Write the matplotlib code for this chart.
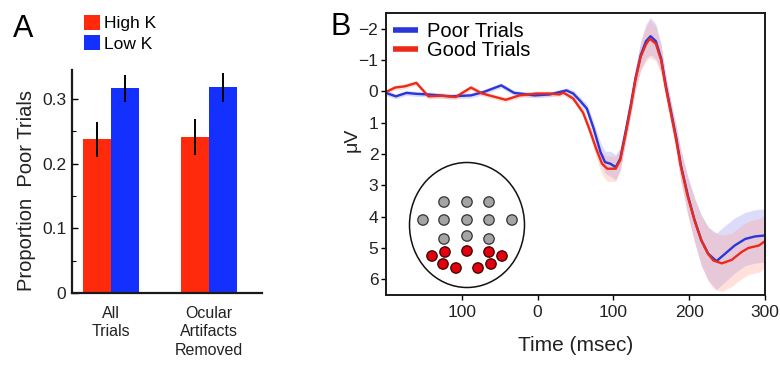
import matplotlib
matplotlib.use("Agg")
import matplotlib.pyplot as plt
from matplotlib.patches import Ellipse, Circle
from matplotlib.lines import Line2D
from matplotlib.ticker import MultipleLocator
import numpy as np

plt.rcParams['font.family'] = ['Liberation Sans', 'DejaVu Sans']

# ---------------- Panel A: proportion of poor trials ----------------
conditions = ["All\nTrials", "Ocular\nArtifacts\nRemoved"]
load_groups = ["High K", "Low K"]
prop_high = [0.238, 0.241]
prop_low = [0.317, 0.318]
err_high = [0.027, 0.028]
err_low = [0.021, 0.022]
yticks_a = [0, 0.1, 0.2, 0.3]
ytick_labels_a = ["0", "0.1", "0.2", "0.3"]

# ---------------- Panel B: ERP waveforms ----------------
good_t = [-200, -188, -175, -160, -144, -127, -108, -88, -73, -42,
          -24, -2, 16, 29, 34, 47, 60, 69, 78, 85,
          92, 103, 109, 116, 123, 129, 136, 143, 148, 156,
          163, 169, 176, 183, 189, 198, 207, 216, 225, 232,
          243, 256, 269, 278, 292, 300]
good_uv = [0.02, -0.12, -0.16, -0.27, 0.16, 0.14, 0.18, -0.12, 0.07, 0.27,
           0.13, 0.07, 0.07, 0.10, 0.04, 0.23, 0.68, 1.25, 1.88, 2.31,
           2.47, 2.47, 2.20, 1.38, 0.50, -0.35, -1.10, -1.50, -1.68, -1.52,
           -0.99, -0.14, 0.71, 1.57, 2.40, 3.35, 4.12, 4.76, 5.19, 5.40,
           5.49, 5.38, 5.13, 5.00, 4.92, 4.78]
good_sem = [0.08, 0.08, 0.08, 0.08, 0.08, 0.08, 0.08, 0.08, 0.08, 0.08,
            0.08, 0.08, 0.08, 0.08, 0.08, 0.10, 0.12, 0.20, 0.30, 0.35,
            0.40, 0.40, 0.35, 0.30, 0.30, 0.35, 0.45, 0.55, 0.60, 0.55,
            0.45, 0.35, 0.35, 0.40, 0.50, 0.60, 0.70, 0.80, 0.85, 0.90,
            0.90, 0.85, 0.85, 0.85, 0.85, 0.85]

poor_t = [-200, -187, -173, -160, -144, -115, -88, -71, -48, -31,
          -20, -4, 16, 38, 47, 56, 65, 74, 83, 89,
          96, 103, 109, 116, 123, 129, 136, 143, 149, 156,
          163, 169, 176, 183, 189, 198, 207, 216, 225, 236,
          247, 260, 274, 287, 300]
poor_uv = [0.05, 0.16, 0.05, 0.08, 0.10, 0.16, 0.13, 0.02, -0.19, 0.05,
           0.08, 0.13, 0.10, -0.03, 0.07, 0.30, 0.55, 1.19, 1.94, 2.26,
           2.31, 2.42, 2.15, 1.30, 0.42, -0.40, -1.15, -1.60, -1.76, -1.60,
           -1.05, -0.20, 0.65, 1.50, 2.35, 3.30, 4.10, 4.75, 5.18, 5.42,
           5.19, 4.92, 4.71, 4.63, 4.60]
poor_sem = [0.08, 0.08, 0.08, 0.08, 0.08, 0.08, 0.08, 0.08, 0.08, 0.08,
            0.08, 0.08, 0.08, 0.08, 0.10, 0.12, 0.15, 0.20, 0.30, 0.35,
            0.40, 0.40, 0.35, 0.30, 0.30, 0.35, 0.45, 0.55, 0.60, 0.55,
            0.45, 0.35, 0.35, 0.40, 0.50, 0.60, 0.70, 0.80, 0.85, 0.90,
            0.90, 0.88, 0.85, 0.85, 0.85]

xticks_b = [-100, 0, 100, 200, 300]
xtick_labels_b = ["100", "0", "100", "200", "300"]
yticks_b = [-2, -1, 0, 1, 2, 3, 4, 5, 6]

# Electrode montage (offsets from head centre, px; y grows downward)
other_sites = [(-23, -23), (0, -23), (22, -23),
               (-44, -5), (-23, -5), (0, -5), (22, -5), (45, -5),
               (-23, 14), (0, 11), (22, 14)]
pooled_sites = [(-35, 31), (-22, 27), (0, 26), (22, 27), (35, 31),
                (-24, 39), (-11, 43), (11, 43), (24, 39)]

RED_BAR = "#ff2a0c"
BLUE_BAR = "#1430ff"
RED_LINE = "#ec2a1a"
BLUE_LINE = "#2a36d8"

W, H = 780, 365
fig = plt.figure(figsize=(W / 100, H / 100), dpi=100)


def fx(px):
    return px / W


def fy(py):
    return 1 - py / H


# ---- Panel A ----
axA = fig.add_axes([fx(72), fy(293), 190 / W, 223 / H])
x = np.arange(len(conditions))
bw = 0.286
ekw = dict(ecolor="black", elinewidth=1.4, capsize=0)
axA.bar(x - bw / 2, prop_high, bw, color=RED_BAR, yerr=err_high,
        error_kw=ekw, label=load_groups[0])
axA.bar(x + bw / 2, prop_low, bw, color=BLUE_BAR, yerr=err_low,
        error_kw=ekw, label=load_groups[1])
axA.set_xlim(-0.398, 1.541)
axA.set_ylim(0, 0.345)
axA.set_xticks(x)
axA.set_xticklabels(conditions, fontsize=11.5, linespacing=1.3, color="#222222")
axA.tick_params(axis="x", length=0, pad=9)
axA.set_yticks(yticks_a)
axA.set_yticklabels(ytick_labels_a, fontsize=12.5, color="#222222")
axA.yaxis.set_minor_locator(MultipleLocator(0.05))
axA.tick_params(axis="y", which="major", direction="in", length=4, width=1.0, pad=4)
axA.tick_params(axis="y", which="minor", direction="in", length=3, width=0.8)
for s in ["top", "right"]:
    axA.spines[s].set_visible(False)
for s in ["left", "bottom"]:
    axA.spines[s].set_linewidth(1.6)
    axA.spines[s].set_color("#1a1a1a")
axA.set_ylabel("Proportion  Poor Trials", fontsize=14.5, color="#222222")
axA.yaxis.set_label_coords(-0.19, 0.46)
axA.legend(loc="upper left", bbox_to_anchor=(fx(84), fy(15)),
           bbox_transform=fig.transFigure, frameon=False, fontsize=12.5,
           handlelength=0.92, handleheight=0.95, handletextpad=0.25,
           labelspacing=0.22, borderpad=0, borderaxespad=0)

fig.text(fx(13), fy(37), "A", fontsize=22, ha="left", va="baseline")

# ---- Panel B ----
axB = fig.add_axes([fx(386), fy(295), 379 / W, 282 / H])
axB.fill_between(poor_t, np.array(poor_uv) - poor_sem, np.array(poor_uv) + poor_sem,
                 color="#8c8cf0", alpha=0.3, lw=0)
axB.fill_between(good_t, np.array(good_uv) - good_sem, np.array(good_uv) + good_sem,
                 color="#ff9a8a", alpha=0.3, lw=0)
axB.plot(poor_t, poor_uv, color=BLUE_LINE, lw=1.7, label="Poor Trials")
axB.plot(good_t, good_uv, color=RED_LINE, lw=1.7, label="Good Trials")
axB.set_xlim(-200, 300)
axB.set_ylim(6.5, -2.5)
axB.set_xticks(xticks_b)
axB.set_xticklabels(xtick_labels_b)
axB.set_yticks(yticks_b)
axB.tick_params(axis="both", direction="out", length=3.5, width=1.0,
                labelsize=12.5, labelcolor="#222222", pad=2)
axB.tick_params(axis="x", pad=4)
for s in axB.spines.values():
    s.set_linewidth(1.4)
    s.set_color("#1a1a1a")
axB.set_xlabel("Time (msec)", fontsize=15, color="#222222", labelpad=11)

leg_handles = [Line2D([], [], color=BLUE_LINE, lw=4.0, solid_capstyle="butt"),
               Line2D([], [], color=RED_LINE, lw=4.0, solid_capstyle="butt")]
axB.legend(leg_handles, ["Poor Trials", "Good Trials"], loc="upper left",
           bbox_to_anchor=(fx(393), fy(22)), bbox_transform=fig.transFigure,
           frameon=False, fontsize=14.5, handlelength=1.25, handletextpad=0.45,
           labelspacing=0.0, borderpad=0, borderaxespad=0)

fig.text(fx(352), fy(140), "μV", fontsize=14, rotation=90, ha="center",
         va="center", color="#222222")
fig.text(fx(351), fy(35), "B", fontsize=22, ha="right", va="baseline")

# ---- Electrode montage inset ----
cx, cy = 467, 225
axH = fig.add_axes([fx(cx - 62), fy(cy + 66), 124 / W, 132 / H])
axH.set_xlim(-62, 62)
axH.set_ylim(66, -66)
axH.axis("off")
axH.patch.set_alpha(0)
axH.add_patch(Ellipse((0, 0), 115, 125, fill=False, ec="#111111", lw=1.1))
for (ex, ey) in other_sites:
    axH.add_patch(Circle((ex, ey), 5.2, fc="#a4a4a4", ec="#333333", lw=0.9))
for (ex, ey) in pooled_sites:
    axH.add_patch(Circle((ex, ey), 5.2, fc="#e0000e", ec="#3a0000", lw=0.9))

fig.savefig("out.png", dpi=100)
